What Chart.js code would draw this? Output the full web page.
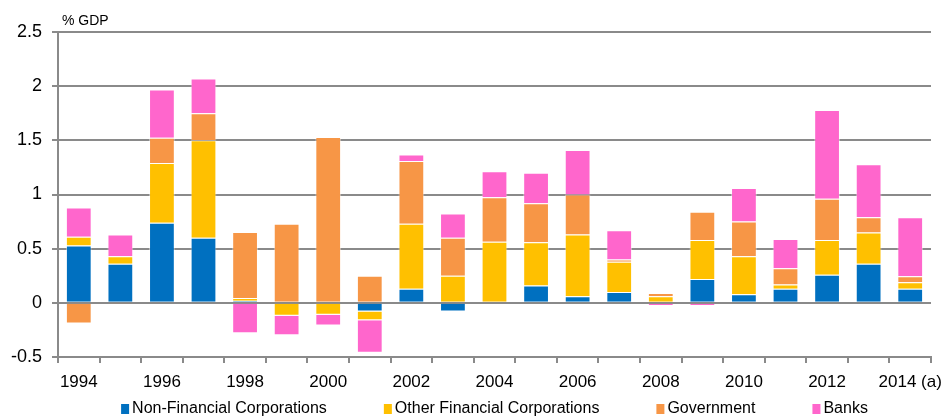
<!DOCTYPE html>
<html>
<head>
<meta charset="utf-8">
<script src="https://cdn.jsdelivr.net/npm/chart.js@4/dist/chart.umd.min.js"></script>
<style>
  html, body { margin: 0; padding: 0; background: #fff; }
  #wrap { width: 942px; height: 416px; }
</style>
</head>
<body>
<div id="wrap"><canvas id="chart-flows" width="942" height="416"></canvas></div>
<script>
/* ============================================================
   FLOWS BY SECTOR (% of GDP), stacked by year
   ============================================================ */

const years = ["1994","1995","1996","1997","1998","1999","2000","2001","2002","2003","2004",
               "2005","2006","2007","2008","2009","2010","2011","2012","2013","2014 (a)"];

const nonFinancial   = [0.53, 0.36, 0.74, 0.60, 0.02, 0.00, 0.00, -0.08, 0.13, -0.08, 0.01,
                        0.16, 0.06, 0.10, 0.01, 0.22, 0.08, 0.13, 0.26, 0.36, 0.13];
const otherFinancial = [0.08, 0.07, 0.55, 0.90, 0.025, -0.12, -0.11, -0.08, 0.60, 0.25, 0.555,
                        0.40, 0.57, 0.28, 0.05, 0.36, 0.35, 0.04, 0.32, 0.29, 0.06];
const government     = [-0.19, -0.01, 0.235, 0.25, 0.61, 0.73, 1.53, 0.25, 0.58, 0.35, 0.41,
                        0.36, 0.37, 0.02, 0.03, 0.26, 0.32, 0.15, 0.38, 0.14, 0.055];
const banks          = [0.27, 0.20, 0.445, 0.32, -0.28, -0.18, -0.10, -0.30, 0.06, 0.225, 0.24,
                        0.28, 0.41, 0.27, -0.03, -0.03, 0.31, 0.27, 0.82, 0.49, 0.545];

const yTicks = { min: -0.5, max: 2.5, step: 0.5 };

const FONT = "'Liberation Sans', Arial, Helvetica, sans-serif";
const GRID = "#8a8a8a";

Chart.defaults.font.family = FONT;
Chart.defaults.color = "#000";

function series(label, data, color){
  return { label, data, backgroundColor: color, borderColor: "rgba(255,255,255,.45)", borderWidth: 1,
           categoryPercentage: 1, barPercentage: 0.62 };
}

// "% GDP" unit above the value axis
const unitLabel = {
  id: "unitLabel",
  afterDraw(chart){
    const ctx = chart.ctx;
    ctx.save();
    ctx.font = "14px " + FONT;
    ctx.fillStyle = "#000";
    ctx.textBaseline = "alphabetic";
    ctx.fillText("% GDP", chart.chartArea.left + 4, 25);
    ctx.restore();
  }
};

// compact legend row under the axis, centred on the plot
const legendRow = {
  id: "legendRow",
  afterDraw(chart){
    const ctx = chart.ctx;
    const area = chart.chartArea;
    ctx.save();
    ctx.font = "16px " + FONT;
    ctx.textBaseline = "alphabetic";
    const gap = 57, box = 8, textGap = 3;
    const items = chart.data.datasets.map(ds => ({
      label: ds.label, color: ds.backgroundColor,
      w: box + textGap + ctx.measureText(ds.label).width
    }));
    const total = items.reduce((s, it) => s + it.w, 0) + gap * (items.length - 1);
    let x = (area.left + area.right) / 2 - total / 2;
    items.forEach(it => {
      ctx.fillStyle = it.color;
      ctx.fillRect(x, 404, box, 10);
      ctx.fillStyle = "#000";
      ctx.fillText(it.label, x + box + textGap, 413);
      x += it.w + gap;
    });
    ctx.restore();
  }
};

new Chart(document.getElementById("chart-flows"), {
  type: "bar",
  data: {
    labels: years,
    datasets: [
      series("Non-Financial Corporations", nonFinancial, "#0070C0"),
      series("Other Financial Corporations", otherFinancial, "#FFC000"),
      series("Government", government, "#F79646"),
      series("Banks", banks, "#FF66CC")
    ]
  },
  options: {
    responsive: false,
    animation: false,
    layout: { padding: { top: 32, right: 11, bottom: 24, left: 0 } },
    plugins: { legend: { display: false }, tooltip: { enabled: false } },
    scales: {
      x: {
        stacked: true,
        grid: { offset: true, drawOnChartArea: false, drawTicks: true, tickLength: 6, color: GRID, lineWidth: 2 },
        border: { color: GRID, width: 2 },
        ticks: {
          autoSkip: false, maxRotation: 0, padding: 9,
          font: { size: 17 },
          callback: (v, i) => (i % 2 === 0 ? years[i] : "")
        },
        afterFit(scale){ scale.height = 35; scale.paddingLeft = 0; scale.paddingRight = 0; }
      },
      y: {
        stacked: true,
        min: yTicks.min, max: yTicks.max,
        grid: { color: GRID, lineWidth: 2, tickLength: 6 },
        border: { color: GRID, width: 2 },
        ticks: {
          stepSize: yTicks.step, padding: 10, font: { size: 18 },
          callback: v => String(Math.round(v * 10) / 10)
        },
        afterFit(scale){ scale.width = 58; }
      }
    }
  },
  plugins: [unitLabel, legendRow]
});
</script>
</body>
</html>
